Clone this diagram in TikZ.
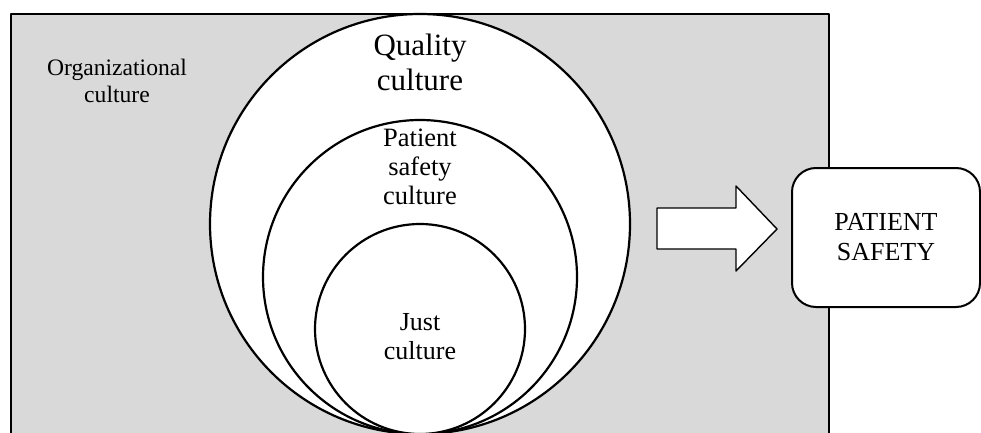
\documentclass[tikz,border=0pt]{standalone}
\usepackage{fontspec}
\setmainfont{Liberation Serif}
\usetikzlibrary{positioning}
\begin{document}
\begin{tikzpicture}[x=1pt,y=-1pt,line join=round]
			\tikzset{ring/.style={circle,draw,line width=2.2pt,fill=white,inner sep=0pt},
				lbl/.style={align=center,inner sep=0pt}}
			\definecolor{orggray}{RGB}{217,217,217}
			\useasboundingbox (0,0) rectangle (981,433);
			\draw[fill=orggray,line width=1.4pt] (11,440)--(11,14)--(829,14)--(829,440);
			\node[lbl,font=\fontsize{23.6}{27}\selectfont] (org) at (117,81) {Organizational\\culture};
			\node[ring,minimum size=420pt] (quality) at (420,224) {};
			\node[ring,minimum size=314pt] (safety) at (420,277) {};
			\node[ring,minimum size=210pt] (just) at (420,329) {};
			\node[lbl,font=\fontsize{31}{35}\selectfont] (qtxt) at (420,62) {Quality\\culture};
			\node[lbl,font=\fontsize{26.5}{29}\selectfont] (stxt) at (420,167) {Patient\\safety\\culture};
			\node[lbl,font=\fontsize{26}{29}\selectfont] (jtxt) at (420,337) {Just\\culture};
			% block arrow
			\draw[fill=white,line width=1.4pt] (657,208)--(736,208)--(736,186)--(777,229)--(736,271)--(736,249)--(657,249)--cycle;
			\node[draw,fill=white,rounded corners=24pt,line width=2pt,minimum width=188pt,minimum height=139pt,align=center,
				font=\fontsize{26}{30}\selectfont] (ps) at (886,237.5) {PATIENT\\SAFETY};
		\end{tikzpicture}
\end{document}
